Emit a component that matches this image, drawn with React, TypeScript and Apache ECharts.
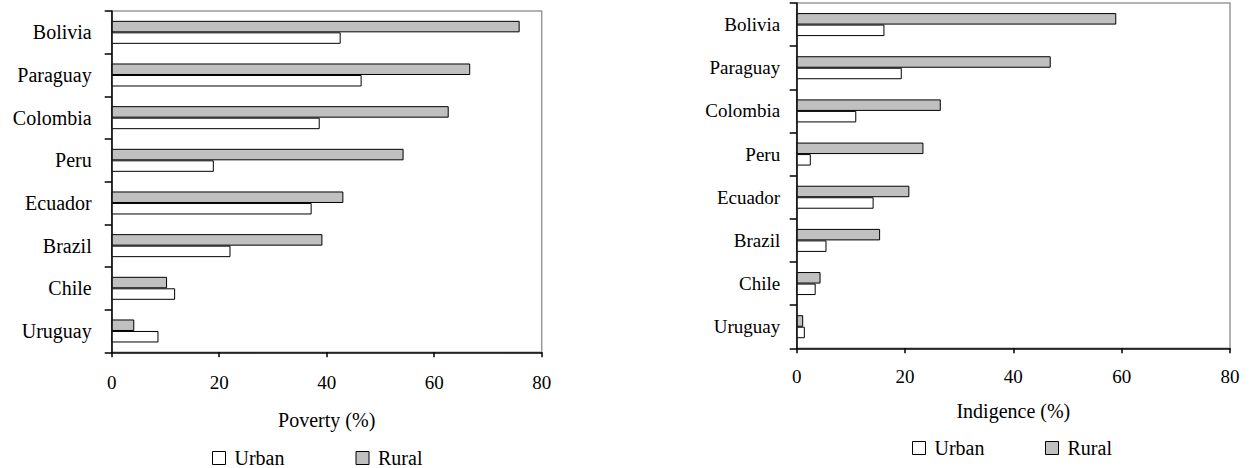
import React, { useEffect, useRef } from "react";
import * as echarts from "echarts";

const countries = ["Bolivia", "Paraguay", "Colombia", "Peru", "Ecuador", "Brazil", "Chile", "Uruguay"];
const povertyUrban = [42.6, 46.5, 38.7, 19.0, 37.2, 22.1, 11.8, 8.7];
const povertyRural = [75.9, 66.7, 62.7, 54.3, 43.1, 39.2, 10.3, 4.2];
const indigenceUrban = [16.2, 19.4, 11.0, 2.6, 14.2, 5.5, 3.5, 1.5];
const indigenceRural = [59.0, 46.9, 26.6, 23.4, 20.8, 15.4, 4.4, 1.2];
const xMin = 0;
const xMax = 80;
const xStep = 20;
const seriesNames = ["Urban", "Rural"];
const axisNames = ["Poverty (%)", "Indigence (%)"];

const FONT = "'Liberation Serif'";

export default function App() {
  const ref = useRef<HTMLDivElement>(null);
  useEffect(() => {
    if (!ref.current) return;
    const chart = echarts.init(ref.current, undefined, { renderer: "svg" });

    const grids = [
      { left: 111.7, right: 1249 - 541.7, top: 11, bottom: 468 - 352.3 },
      { left: 796.7, right: 1249 - 1230, top: 3, bottom: 468 - 348.3 },
    ];
    const catFont = [20, 19];
    const catMargin = [20, 16.5];
    const nameGaps = [58, 53];
    const labelMargins = [21, 19];

    const xAxes = grids.map((_, i) => ({
      type: "value",
      gridIndex: i,
      min: xMin,
      max: xMax,
      interval: xStep,
      splitLine: { show: false },
      axisLine: { show: true, lineStyle: { color: "#000", width: 1.5 } },
      axisTick: { show: true, length: 5, lineStyle: { color: "#000", width: 1.5 } },
      axisLabel: { fontSize: 19, color: "#000", fontFamily: FONT, margin: labelMargins[i] },
      name: axisNames[i],
      nameLocation: "middle",
      nameGap: nameGaps[i],
      nameTextStyle: { fontSize: 20, color: "#000", fontFamily: FONT },
    }));

    const yAxes = grids.map((_, i) => ({
      type: "category",
      gridIndex: i,
      data: countries,
      inverse: true,
      axisLine: { show: true, lineStyle: { color: "#000", width: 1.5 } },
      axisTick: { show: true, length: 7, lineStyle: { color: "#000", width: 1.5 } },
      axisLabel: { fontSize: catFont[i], color: "#000", fontFamily: FONT, margin: catMargin[i] },
    }));

    const mkSeries = (name: string, data: number[], idx: number, fill: string) => ({
      type: "bar",
      name,
      data,
      xAxisIndex: idx,
      yAxisIndex: idx,
      barWidth: 11.5,
      barGap: "0%",
      itemStyle: { color: fill, borderColor: "#000", borderWidth: 1 },
    });

    const legendPos = [
      { name: seriesNames[0], left: 212, top: 448 },
      { name: seriesNames[1], left: 355.5, top: 448 },
      { name: seriesNames[0], left: 912, top: 438 },
      { name: seriesNames[1], left: 1045, top: 438 },
    ];

    chart.setOption({
      animation: false,
      textStyle: { fontFamily: FONT },
      grid: grids.map((g) => ({ ...g, show: true, borderColor: "#999", borderWidth: 1.5, backgroundColor: "transparent" })),
      xAxis: xAxes,
      yAxis: yAxes,
      legend: legendPos.map((l) => ({
        data: [l.name],
        left: l.left,
        top: l.top,
        padding: 0,
        icon: "rect",
        itemWidth: 13,
        itemHeight: 13,
        itemStyle: { borderColor: "#000", borderWidth: 1 },
        textStyle: { fontSize: 20, color: "#000", fontFamily: FONT, padding: [0, 0, 0, 4] },
        selectedMode: false,
      })),
      series: [
        mkSeries(seriesNames[1], povertyRural, 0, "#c0c0c0"),
        mkSeries(seriesNames[0], povertyUrban, 0, "#ffffff"),
        mkSeries(seriesNames[1], indigenceRural, 1, "#c0c0c0"),
        mkSeries(seriesNames[0], indigenceUrban, 1, "#ffffff"),
      ],
    });
    return () => chart.dispose();
  }, []);
  return (
    <div
      ref={ref}
      style={{ position: "fixed", left: 0, top: 0, width: 1249, height: 468, background: "#fff" }}
    />
  );
}
